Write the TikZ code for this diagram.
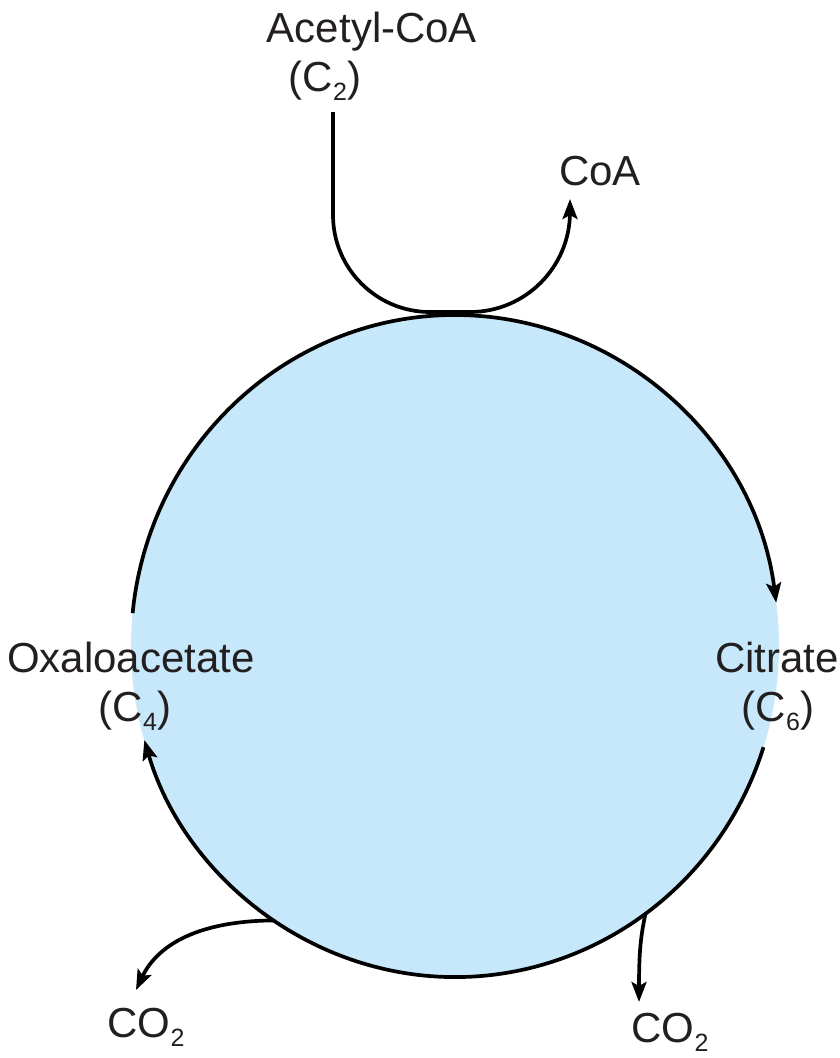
\documentclass[tikz,border=0pt]{standalone}
\usepackage{fontspec}
\setmainfont{Liberation Sans}
\usetikzlibrary{arrows.meta,calc}
\definecolor{cycfill}{HTML}{C7E8FA}
\definecolor{txt}{HTML}{231F20}
\newcommand{\mysub}[1]{\raisebox{-0.22em}{\fontsize{25}{25}\selectfont #1}}
\begin{document}
\begin{tikzpicture}[x=1pt,y=-1pt,
  lbl/.style={font=\fontsize{42}{42}\selectfont, text=txt, anchor=base, inner sep=0pt},
  conn/.style={line width=3.7pt, draw=black},
  tip/.style={-{Stealth[length=20pt,width=15pt,inset=4pt]}}]
\useasboundingbox (0,0) rectangle (840,1058);
\coordinate (C) at (455,646);
\fill[cycfill] (C) ellipse [x radius=324, y radius=331];

% cycle arcs
\draw[conn, tip] ($(C)+(185.7:324 and 331)$) arc[start angle=185.7, end angle=352.5, x radius=324, y radius=331];
\draw[conn, tip] ($(C)+(17.8:324 and 331)$) arc[start angle=17.8, end angle=163.5, x radius=324, y radius=331];

% labels
\node[lbl] (acetyl) at (372,42) {Acetyl-CoA};
\node[lbl] (c2) at (325,91) {(C\mysub{2})};
\node[lbl] (coa) at (600,185) {CoA};
\node[lbl] (oxa) at (131,672) {Oxaloacetate};
\node[lbl] (c4) at (135,721) {(C\mysub{4})};
\node[lbl] (cit) at (777,672) {Citrate};
\node[lbl] (c6) at (778,721) {(C\mysub{6})};
\node[lbl] (co2a) at (146,1037) {CO\mysub{2}};
\node[lbl] (co2b) at (670,1042) {CO\mysub{2}};

% acetyl-CoA in, CoA out
\coordinate (acIn) at (333,112);
\coordinate (coaEnd) at (570,199);
\draw[conn, tip] (acIn) -- (333,215) arc[start angle=180, end angle=90, radius=97]
  -- (470,312) arc[start angle=90, end angle=0, radius=100] -- (coaEnd);

% CO2 releases
\coordinate (co2aTip) at (136,990);
\coordinate (co2bTip) at (639,1002);
\draw[conn, tip] ($(C)+(124:324 and 331)$) .. controls (190,921) and (155,950) .. (co2aTip);
\draw[conn, tip] ($(C)+(54:324 and 331)$) .. controls (641,935) and (639,950) .. (co2bTip);
\end{tikzpicture}
\end{document}
